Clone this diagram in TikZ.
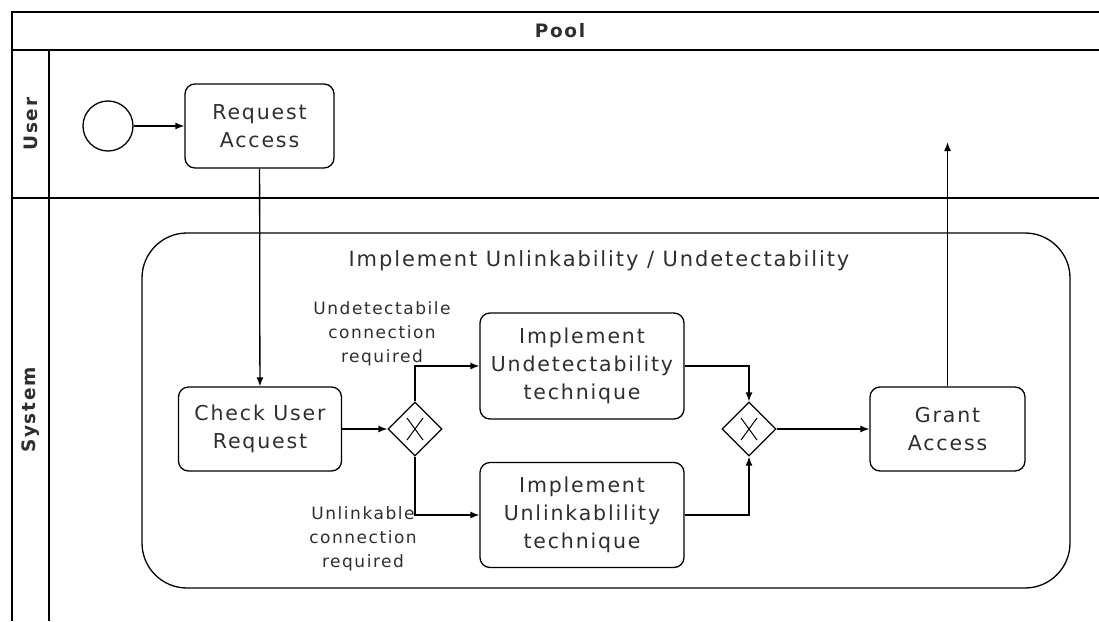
\documentclass[tikz,border=0pt]{standalone}
\usepackage{fontspec}
\setmainfont{DejaVu Sans}[LetterSpace=9]
\usepackage{tikz}
\usetikzlibrary{shapes.geometric,arrows.meta}

\begin{document}
\begin{tikzpicture}[x=1pt,y=-1pt,
        line width=1.3pt,
        every node/.style={text=black!82},
        task/.style={draw, rounded corners=10pt, align=center,
            font=\fontsize{20.5}{28}\selectfont},
        startev/.style={draw, circle, minimum size=50pt, inner sep=0pt},
        gate/.style={draw, diamond, minimum size=54pt, inner sep=0pt,
            path picture={
                \draw[line width=1pt]
                ([shift={(-8pt,-11pt)}]path picture bounding box.center) --
                ([shift={(8pt,11pt)}]path picture bounding box.center);
                \draw[line width=1pt]
                ([shift={(-8pt,11pt)}]path picture bounding box.center) --
                ([shift={(8pt,-11pt)}]path picture bounding box.center);
            }},
        cond/.style={align=center, font=\fontsize{17}{24}\selectfont},
        lane/.style={rotate=90, font=\fontsize{18.5}{20}\selectfont\bfseries},
        flow/.style={-{Latex[length=9pt,width=7pt]}}]
    \useasboundingbox (0,0) rectangle (1099,621);

    % pool and lanes
    \draw (12,621) -- (12,12) -- (1099,12);
    \draw (12,50) -- (1099,50);
    \draw (12,198) -- (1099,198);
    \draw (49,50) -- (49,621);
    \node[font=\fontsize{18.5}{20}\selectfont\bfseries] (pool) at (560,31) {Pool};
    \node[lane] (user) at (30.5,124) {User};
    \node[lane] (system) at (30.5,410) {System};

    % sub-process
    \draw[rounded corners=45pt] (142,233) rectangle (1070,588);
    \node[font=\fontsize{21}{24}\selectfont] (title) at (599,261)
        {Implement Unlinkability / Undetectability};

    \node[startev] (start) at (108,126) {};
    \node[task, minimum width=149pt, minimum height=84pt] (req) at (259.5,126)
        {Request\\Access};
    \node[task, minimum width=163pt, minimum height=84pt] (check) at (260,429)
        {Check User\\Request};
    \node[gate] (gw1) at (415,429) {};
    \node[task, minimum width=204pt, minimum height=106pt] (undet) at (582,366)
        {Implement\\Undetectability\\technique};
    \node[task, minimum width=204pt, minimum height=105pt] (unlink) at (582,515)
        {Implement\\Unlinkablility\\technique};
    \node[gate] (gw2) at (749,429) {};
    \node[task, minimum width=155pt, minimum height=84pt] (grant) at (947.5,429)
        {Grant\\Access};
    \coordinate (out) at (947.5,142);

    \node[cond] (c1) at (382,334) {Undetectabile\\connection\\required};
    \node[cond] (c2) at (363,539) {Unlinkable\\connection\\required};

    % flows
    \draw[flow] (start) -- (req);
    \draw[flow] (req) -- (check);
    \draw[flow] (check) -- (gw1);
    \draw[flow] (gw1.north) |- (undet.west);
    \draw[flow] (gw1.south) |- (unlink.west);
    \draw[flow] (undet.east) -| (gw2.north);
    \draw[flow] (unlink.east) -| (gw2.south);
    \draw[flow] (gw2) -- (grant);
    \draw[flow] (grant) -- (out);
\end{tikzpicture}
\end{document}
